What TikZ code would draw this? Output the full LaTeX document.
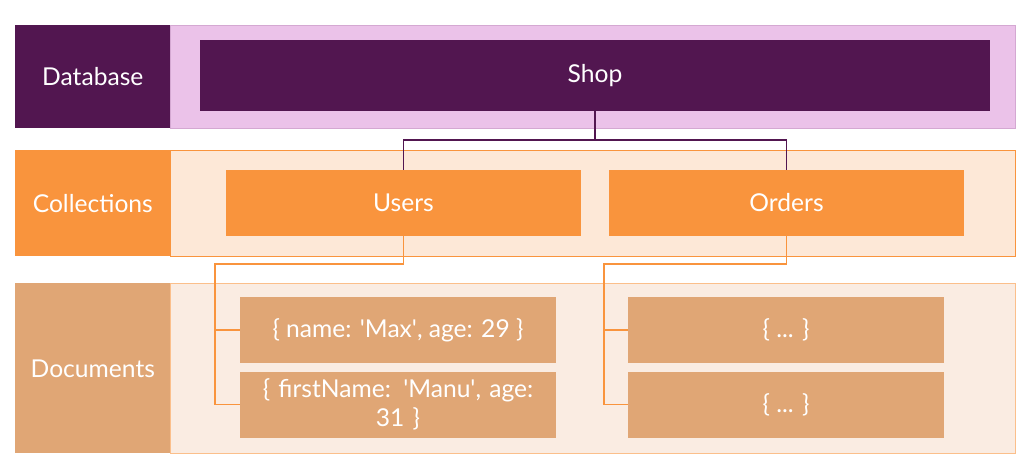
\documentclass[tikz,border=0pt]{standalone}
\usepackage{fontspec}
\setmainfont{Lato}
\usetikzlibrary{positioning}
\definecolor{dbdark}{HTML}{521650}
\definecolor{dblight}{HTML}{EBC2E9}
\definecolor{colorange}{HTML}{F9943D}
\definecolor{collight}{HTML}{FDE8D7}
\definecolor{doctan}{HTML}{E0A675}
\definecolor{doclight}{HTML}{FAECE2}
\newcommand{\sq}{\textquotesingle}

\begin{document}
\begin{tikzpicture}[
    x=0.025cm, y=-0.025cm,
    label/.style={rectangle, anchor=north west, inner sep=0pt, minimum width=3.875cm, text=white, font=\fontsize{17.5}{21}\selectfont},
    band/.style={rectangle, anchor=north west, inner sep=0pt, minimum width=21.125cm, thick},
    item/.style={rectangle, inner sep=2pt, text=white, align=center, font=\fontsize{17.5}{21}\selectfont},
    tree/.style={thick}
]
\useasboundingbox (0,0) rectangle (1029,468);

% Database
\node[label, fill=dbdark, minimum height=2.575cm] (dblabel) at (15,25) {Database};
\node[band, fill=dblight, draw=dblight!85!dbdark, minimum height=2.575cm] (dbband) at (170,25) {};
\node[item, fill=dbdark, minimum width=19.75cm, minimum height=1.775cm] (shop) at (595,75.5) {Shop};

% Collections
\node[label, fill=colorange, minimum height=2.65cm] (collabel) at (15,150) {Collections};
\node[band, fill=collight, draw=colorange, minimum height=2.65cm] (colband) at (170,150) {};
\node[item, fill=colorange, minimum width=8.875cm, minimum height=1.65cm] (users) at (403.5,203) {Users};
\node[item, fill=colorange, minimum width=8.875cm, minimum height=1.65cm] (orders) at (786.5,203) {Orders};

% Documents
\node[label, fill=doctan, minimum height=4.25cm] (doclabel) at (15,283) {Documents};
\node[band, fill=doclight, draw=colorange!60, minimum height=4.25cm] (docband) at (170,283) {};
\node[item, fill=doctan, minimum width=7.9cm, minimum height=1.65cm] (max) at (398,330) {\{ name: \sq Max\sq, age: 29 \}};
\node[item, fill=doctan, minimum width=7.9cm, minimum height=1.65cm, text width=7.5cm, inner sep=0pt] (manu) at (398,404.5) {\{ firstName: \sq Manu\sq, age:\\ 31 \}};
\node[item, fill=doctan, minimum width=7.9cm, minimum height=1.65cm] (ordera) at (786,330) {\{ ... \}};
\node[item, fill=doctan, minimum width=7.9cm, minimum height=1.65cm] (orderb) at (786,404.5) {\{ ... \}};

% Verbindungen
\coordinate (split) at (595,140);
\draw[tree, dbdark] (shop.south) -- (split);
\draw[tree, dbdark] (split) -| (users.north);
\draw[tree, dbdark] (split) -| (orders.north);

\coordinate (ujoin) at (215,264);
\coordinate (ojoin) at (604,264);
\draw[tree, colorange] (users.south) |- (ujoin) |- (manu.west);
\draw[tree, colorange] (ujoin |- max.west) -- (max.west);
\draw[tree, colorange] (orders.south) |- (ojoin) |- (orderb.west);
\draw[tree, colorange] (ojoin |- ordera.west) -- (ordera.west);

\end{tikzpicture}
\end{document}
